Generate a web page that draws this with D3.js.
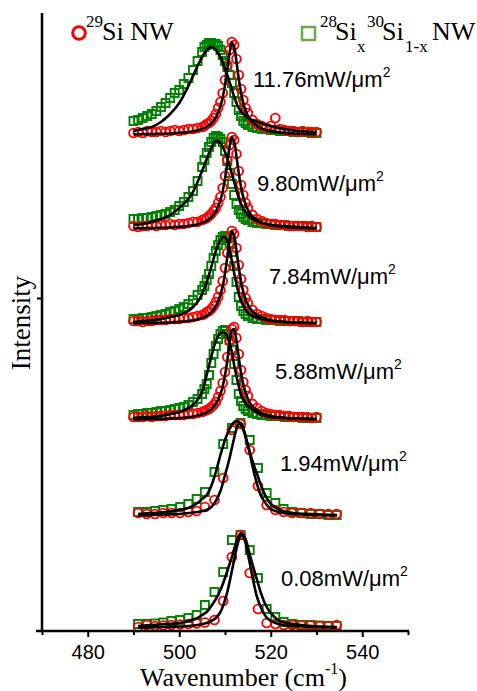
<!DOCTYPE html>
<html><head><meta charset="utf-8">
<script src="https://cdn.jsdelivr.net/npm/d3@7"></script>
<style>body{margin:0;background:#fff}</style>
</head><body><svg id="chart" width="477" height="691"></svg>
<script>
// ---------- DATA ----------
const powers = ["11.76", "9.80", "7.84", "5.88", "1.94", "0.08"];   // mW/um^2, top to bottom
const stackOffset = [496, 402, 307, 211, 115, 3];                     // vertical offsets (a.u.)

const xDense = [490,491,492,493,494,495,496,497,498,499,500,501,502,503,504,505,
  505.5,506,506.5,507,507.5,508,508.5,509,509.5,510,510.5,511,511.5,512,512.5,513,513.5,514,514.5,515,
  516,517,518,519,520,521,522,523,524,525,526,527,528,529,530];
const xSparse = [491.0,492.9,494.7,496.5,498.3,500.2,502.0,503.8,505.6,507.7,509.6,511.5,513.4,515.4,517.2,519.1,521.0,522.8,524.7,526.7,528.7,530.7,532.6,534.4];
const xFitDense = [490,492,494,496,498,500,502,503,504,505,506,507,508,509,509.5,510,510.5,511,511.5,512,512.5,513,513.5,514,515,516,518,520,523,526,530];
const xFitSparse = [491,494,497,500,502,504,505,506,507,508,509,510,510.5,511,511.5,512,512.5,513,513.5,514,514.5,515,515.5,516,517,518,519,520,522,525,529,534.5];

// 29Si NW (red circles)
const si29_1176 = [2,3,2,4,3,3,4,3,4,5,4,5,6,6,7,8, 9,11,12,14,17,21,27,33,42,55,70,85,93,90,76,60,46,35,27,22, 15,11,9,7,9,17,6,5,4,4,3,4,3,3,3];
const si29_980  = [3,2,3,3,4,3,4,4,5,4,5,5,6,7,7,9, 10,11,13,15,18,21,26,32,41,53,69,84,92,89,75,58,44,34,26,21, 14,10,8,6,5,5,4,4,3,3,3,3,2,3,2];
const si29_784  = [3,3,2,3,3,4,4,4,5,5,5,6,6,7,8,9, 10,12,13,15,18,22,27,34,43,56,71,86,93,90,76,59,45,34,26,21, 14,10,8,6,5,4,4,4,3,3,3,2,3,2,2];
const si29_588  = [3,3,3,4,3,4,4,4,5,5,5,5,6,6,7,8, 9,10,11,13,15,18,23,29,37,48,63,79,91,93,82,66,50,38,30,24, 16,12,9,7,6,5,5,4,4,3,3,3,3,2,3];
const si29_194  = [3,2,2,3,3,3,4,5,9,16,38,86,92,66,30,11,6,4,3,3,3,2,2,2];
const si29_008  = [1,3,2,2.5,3,3.5,4,4.5,5.5,8,27,71,93,55,19,5,4,3,3,2.5,2.5,2,2,3];

// 28Si_x 30Si_1-x NW (green squares)
const sixy_1176 = [14,15,17,19,21,24,28,32,37,42,45,51,57,65,74,83, 88,90,92,92,91,91,89,85,80,74,68,60,52,42,33,25,19,14,12,10, 8,7,6,6,5,5,4,4,4,3,3,3,3,2,2];
const sixy_980  = [10,10,11,11,12,13,14,15,17,19,23,27,32,38,48,62, 69,76,82,87,91,93,92,90,87,78,68,56,45,34,25,19,15,12,10,9, 7,6,6,5,5,4,4,4,3,3,3,3,3,2,2];
const sixy_784  = [5,5,6,6,7,8,9,10,12,13,15,17,20,24,29,34, 38,44,50,58,66,73,79,84,87,88,86,81,72,58,42,27,18,13,10,8, 6,5,5,4,4,4,3,3,3,3,3,2,2,2,2];
const sixy_588  = [5,6,6,7,7,8,9,9,10,11,12,13,15,18,21,26, 31,36,45,57,66,74,81,86,89,90,86,80,70,56,40,26,19,14,11,9, 7,6,5,5,4,4,4,3,3,3,3,2,2,2,2];
const sixy_194  = [4,4,5,6,7,9,12,17,24,44,72,88,93,76,48,23,13,7,4,3,2,2,1,1];
const sixy_008  = [4,4,4.5,5.5,7,8,10,13,23,36,56,88,93,78,50,19,11,6,4,3,3,2.5,2,2];

// fitted curves (black)
const fit29_1176 = [0.6,0.8,0.9,1.2,1.5,2.1,3.0,3.7,4.6,6.1,8.2,11.6,17.6,28.7,37.7,50.1,66,82.3,92.5,88.2,73.3,56.5,42.4,32,19.2,12.6,6.4,3.8,2.1,1.3,0.8];
const fit29_980  = [0.6,0.8,0.9,1.2,1.5,2.1,3.0,3.7,4.6,6.1,8.2,11.6,17.6,28.7,37.7,50.1,66,82.3,91.7,87.4,72.7,56.1,42.2,31.9,19.2,12.6,6.4,3.8,2.1,1.3,0.8];
const fit29_784  = [0.6,0.8,0.9,1.2,1.5,2.1,3.0,3.7,4.6,6.1,8.2,11.7,17.8,29,38,50.6,66.7,83.2,92.7,88.3,73.5,56.7,42.6,32.2,19.4,12.7,6.5,3.8,2.1,1.3,0.8];
const fit29_588  = [0.6,0.7,0.9,1.1,1.5,2.0,2.8,3.5,4.4,5.7,7.7,10.8,16.1,25.8,33.7,44.7,59.3,76.1,89.4,90.8,79.3,62.6,47.4,35.6,21.2,13.6,6.8,4.0,2.2,1.4,0.8];
const fit29_194  = [0.5,1,1.5,2,3,4,5,6,9,15,25,41,49,58,68,78,87,92,93,88,80,70,61,50,32,19,12,7,3.5,2,1,0.5];
const fit29_008  = [0.5,0.7,1,1.5,2,3,4,5,7,10,16,28,36,46,57,68,79,88,93,91,85,74,63,51,31,19,11,7,3.5,2,1,0.5];
const fitxy_1176 = [4,6,8,13,21,32,49,59,69,78,85,88,85,78,73,66,60,53,46,38,32,27,24,21,17,15,12,9,6,4,3];
const fitxy_980  = [4,5,7,10,14,21,30,37,47,58,70,81,88,86,82,77,71,63,55,47,39,31,25,20,14,10,6,4,3,2,1];
const fitxy_784  = [2,3,4,5,7,9,13,17,22,30,42,57,73,84,87,87,83,74,63,51,40,30,23,18,11,8,5,3,2,1.5,1];
const fitxy_588  = [2,3,3,4,6,8,12,15,20,28,45,63,79,87,88,87,83,77,68,55,44,34,25,20,14,10,5,3,2,1.5,1];
const fitxy_194  = [2,3,4,6,8,13,17,21,30,44,61,76,82,87,91,94,95,94,91,86,79,71,63,55,42,29,19,12,6,3,2,1];
const fitxy_008  = [2,3,4,5,7,10,13,16,22,29,38,50,57,64,71,79,86,92,95,93,89,81,72,64,48,33,22,15,7,4,2,1];

const xTicksMajor = [480, 500, 520, 540];
const xTicksMinor = [470, 490, 510, 530, 550];

// ---------- TABLE ----------
const spectra = [
  {p: powers[0], off: stackOffset[0], x: xDense,  xf: xFitDense,  red: si29_1176, green: sixy_1176, rf: fit29_1176, gf: fitxy_1176},
  {p: powers[1], off: stackOffset[1], x: xDense,  xf: xFitDense,  red: si29_980,  green: sixy_980,  rf: fit29_980,  gf: fitxy_980},
  {p: powers[2], off: stackOffset[2], x: xDense,  xf: xFitDense,  red: si29_784,  green: sixy_784,  rf: fit29_784,  gf: fitxy_784},
  {p: powers[3], off: stackOffset[3], x: xDense,  xf: xFitDense,  red: si29_588,  green: sixy_588,  rf: fit29_588,  gf: fitxy_588},
  {p: powers[4], off: stackOffset[4], x: xSparse, xf: xFitSparse, red: si29_194,  green: sixy_194,  rf: fit29_194,  gf: fitxy_194},
  {p: powers[5], off: stackOffset[5], x: xSparse, xf: xFitSparse, red: si29_008,  green: sixy_008,  rf: fit29_008,  gf: fitxy_008}
];
// label layout (pixels)
const labelPos = [[253,87],[257,191],[269,284],[275,379],[280,471],[281,586]];

// ---------- DRAW ----------
const svg = d3.select("#chart");
const x = d3.scaleLinear().domain([470, 550]).range([42, 408]);
const y = d3.scaleLinear().domain([0, 618]).range([631, 13]);
const RED = "#ff0000", GREEN = "#008000";
const sans = "'Liberation Sans', Arial, sans-serif";
const serif = "'Liberation Serif', 'Times New Roman', serif";

const line = d3.line().curve(d3.curveCatmullRom.alpha(0.5));

spectra.forEach(s => {
  const g = svg.append("g");
  g.selectAll("rect.g").data(s.green).join("rect")
    .attr("x", (v, i) => x(s.x[i]) - 4).attr("y", v => y(s.off + v) - 4)
    .attr("width", 8).attr("height", 8)
    .attr("fill", "none").attr("stroke", GREEN).attr("stroke-width", 1.9);
  g.selectAll("circle.r").data(s.red).join("circle")
    .attr("cx", (v, i) => x(s.x[i])).attr("cy", v => y(s.off + v)).attr("r", 4.4)
    .attr("fill", "none").attr("stroke", RED).attr("stroke-width", 1.9);
  [s.gf, s.rf].forEach(f => {
    g.append("path")
      .attr("d", line(f.map((v, i) => [x(s.xf[i]), y(s.off + v)])))
      .attr("fill", "none").attr("stroke", "#000").attr("stroke-width", 2.6);
  });
});

// power labels
spectra.forEach((s, i) => {
  const t = svg.append("text").attr("x", labelPos[i][0]).attr("y", labelPos[i][1])
    .attr("font-family", sans).attr("font-size", 22).attr("fill", "#000");
  t.append("tspan").text(s.p + "mW/\u03bcm");
  t.append("tspan").attr("font-size", 14).attr("dy", -10).text("2");
});

// axes
const axX = svg.append("g").attr("transform", "translate(0,631)")
  .call(d3.axisBottom(x).tickValues(xTicksMajor).tickSize(6).tickPadding(8).tickFormat(d3.format("d")));
axX.select(".domain").remove();
axX.selectAll("line").attr("stroke-width", 2);
axX.selectAll("text").attr("font-family", sans).attr("font-size", 20).attr("fill", "#000");
const axXm = svg.append("g").attr("transform", "translate(0,631)")
  .call(d3.axisBottom(x).tickValues(xTicksMinor).tickSize(4).tickFormat(""));
axXm.select(".domain").remove();
axXm.selectAll("line").attr("stroke-width", 2);

const axY = svg.append("g").attr("transform", "translate(42,0)")
  .call(d3.axisLeft(y).tickValues([333]).tickSize(5).tickFormat(""));
axY.select(".domain").remove();
axY.selectAll("line").attr("stroke-width", 2);

svg.append("line").attr("x1", 36).attr("x2", 409).attr("y1", 631).attr("y2", 631)
  .attr("stroke", "#000").attr("stroke-width", 2.5);
svg.append("line").attr("x1", 42).attr("x2", 42).attr("y1", 13).attr("y2", 632)
  .attr("stroke", "#000").attr("stroke-width", 2.5);

// axis titles
const xt = svg.append("text").attr("x", 140).attr("y", 686)
  .attr("font-family", serif).attr("font-size", 26).attr("fill", "#000");
xt.append("tspan").text("Wavenumber (cm");
xt.append("tspan").attr("font-size", 16).attr("dy", -12).text("-1");
xt.append("tspan").attr("dy", 12).text(")");

svg.append("text").attr("transform", "translate(30,323) rotate(-90)")
  .attr("text-anchor", "middle").attr("font-family", serif).attr("font-size", 27)
  .attr("fill", "#000").text("Intensity");

// legend
svg.append("circle").attr("cx", 79).attr("cy", 33).attr("r", 6.3)
  .attr("fill", "none").attr("stroke", RED).attr("stroke-width", 3);
svg.append("text").attr("x", 86).attr("y", 27).attr("font-family", serif).attr("font-size", 17).text("29");
svg.append("text").attr("x", 102).attr("y", 40).attr("font-family", serif).attr("font-size", 26).text("Si NW");

svg.append("rect").attr("x", 302).attr("y", 27).attr("width", 13).attr("height", 13)
  .attr("fill", "none").attr("stroke", "#6aaa4a").attr("stroke-width", 2.5);
svg.append("text").attr("x", 320).attr("y", 27).attr("font-family", serif).attr("font-size", 17).text("28");
svg.append("text").attr("x", 335).attr("y", 40).attr("font-family", serif).attr("font-size", 26).text("Si");
svg.append("text").attr("x", 357).attr("y", 52).attr("font-family", serif).attr("font-size", 17).text("x");
svg.append("text").attr("x", 367).attr("y", 27).attr("font-family", serif).attr("font-size", 17).text("30");
svg.append("text").attr("x", 382).attr("y", 40).attr("font-family", serif).attr("font-size", 26).text("Si");
svg.append("text").attr("x", 405).attr("y", 52).attr("font-family", serif).attr("font-size", 17).text("1-x");
svg.append("text").attr("x", 432).attr("y", 40).attr("font-family", serif).attr("font-size", 26).text("NW");
</script>
</body></html>
